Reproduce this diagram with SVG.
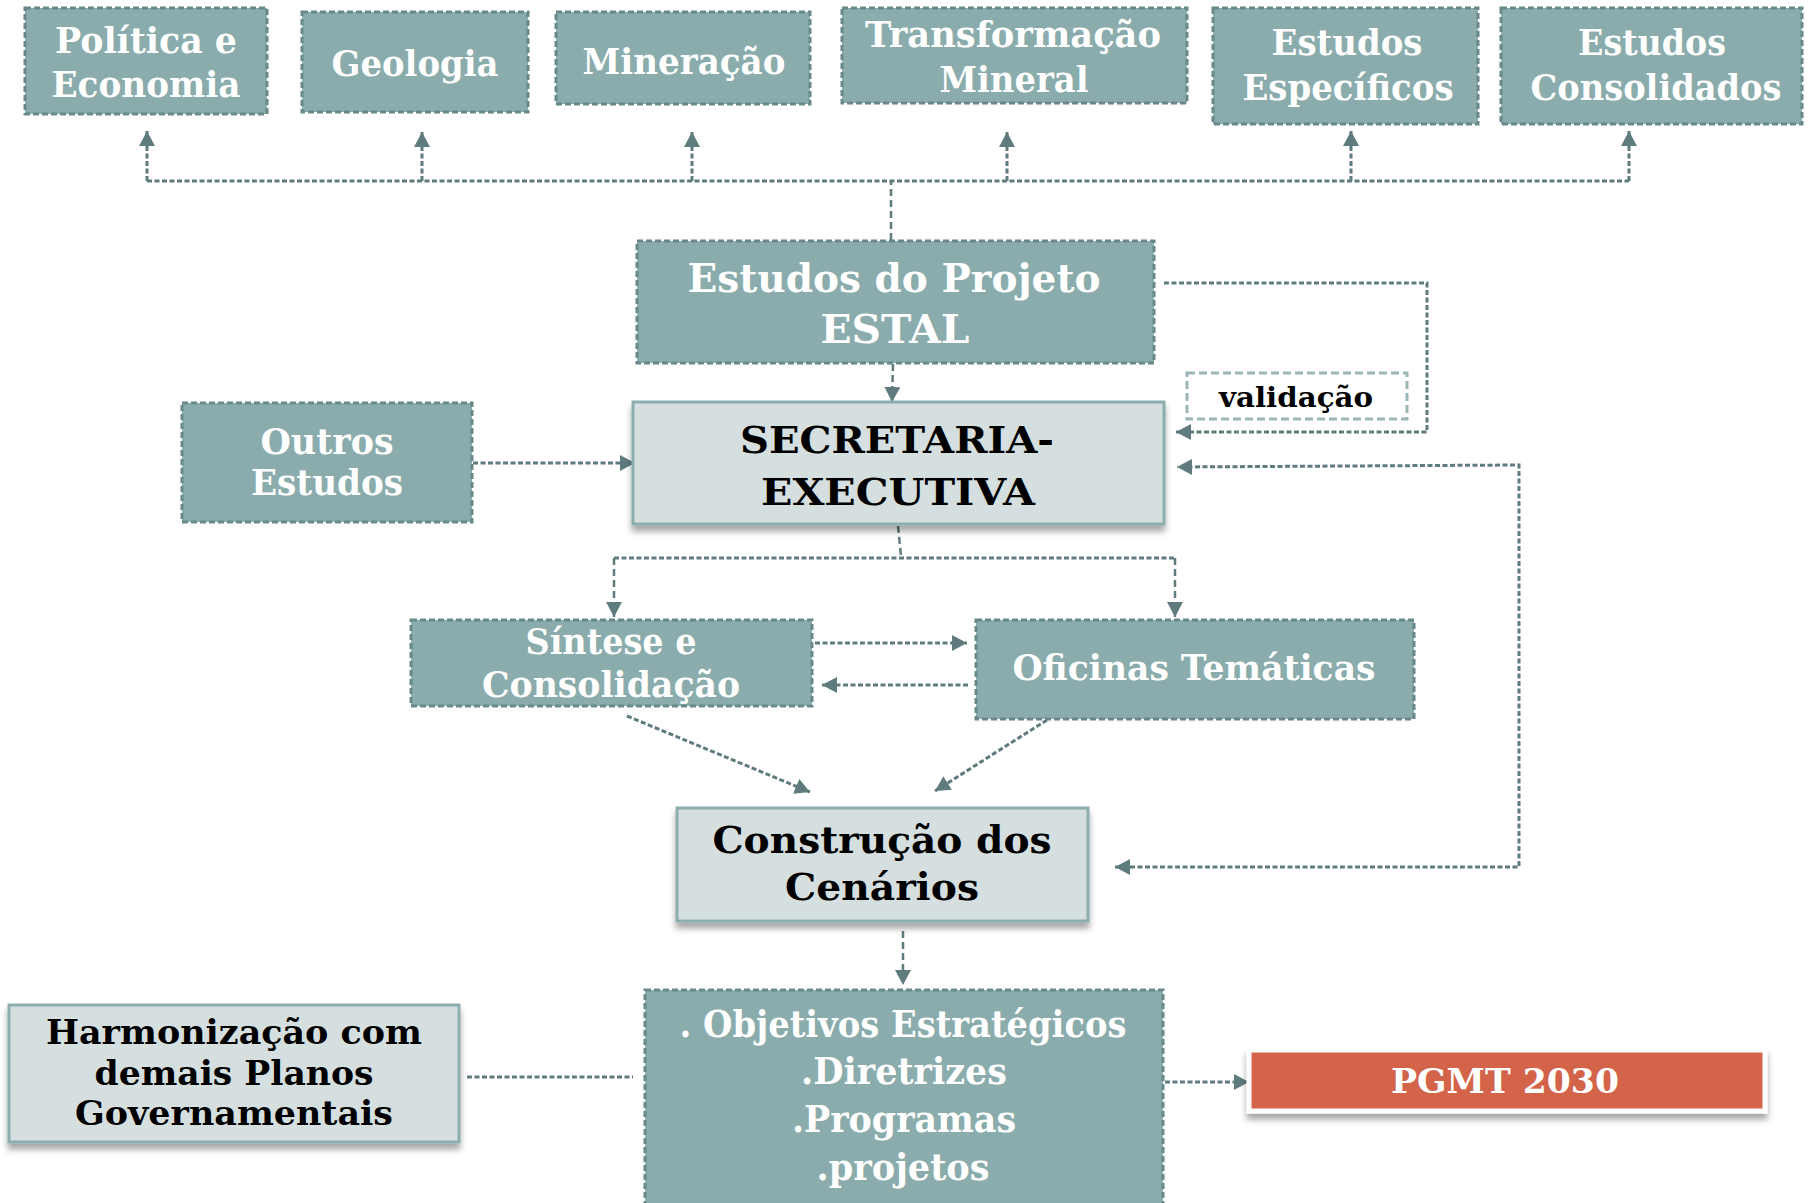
<svg xmlns="http://www.w3.org/2000/svg" width="1820" height="1203" viewBox="0 0 1820 1203">
<defs>
<style>
.t{fill:#8aacac;stroke:#68888a;stroke-width:3;stroke-dasharray:6 3}
.l{fill:#d5dfdf;stroke:#8cadad;stroke-width:3}
.w{font-family:"DejaVu Serif","Liberation Serif",serif;font-weight:bold;fill:#ffffff;text-anchor:middle}
.b{font-family:"DejaVu Serif","Liberation Serif",serif;font-weight:bold;fill:#000000;text-anchor:middle}
.c{fill:none;stroke:#5f7b7d;stroke-width:2.5;stroke-dasharray:7 4}
.cd{fill:none;stroke:#5f7b7d;stroke-width:3;stroke-dasharray:5 2.5}
</style>
<marker id="ah" markerUnits="userSpaceOnUse" markerWidth="16" markerHeight="16" refX="15" refY="8" orient="auto-start-reverse">
<path d="M0,0 L15,8 L0,16 z" fill="#5f7b7d"/>
</marker>
<filter id="sh" x="-10%" y="-20%" width="120%" height="150%">
<feDropShadow dx="0" dy="6" stdDeviation="3" flood-color="#000" flood-opacity="0.35"/>
</filter>
</defs>
<rect width="1820" height="1203" fill="#ffffff"/>

<g id="connectors">
<path class="c" d="M891,240 V181"/>
<path class="cd" d="M147,181 H1629"/>
<path class="cd" d="M147,181 V131" marker-end="url(#ah)"/>
<path class="cd" d="M422,181 V132" marker-end="url(#ah)"/>
<path class="cd" d="M692,181 V132" marker-end="url(#ah)"/>
<path class="cd" d="M1007,181 V132" marker-end="url(#ah)"/>
<path class="cd" d="M1351,181 V131" marker-end="url(#ah)"/>
<path class="cd" d="M1629,181 V131" marker-end="url(#ah)"/>
<path class="c" d="M893,364 L892,402" marker-end="url(#ah)"/>
<path class="cd" d="M473,463 H635" marker-end="url(#ah)"/>
<path class="cd" d="M1164,283 H1427 V432 H1176" marker-end="url(#ah)"/>
<path class="cd" d="M1115,867 H1519 V465 L1177,467" marker-start="url(#ah)" marker-end="url(#ah)"/>
<path class="c" d="M898,526 L901,556"/>
<path class="cd" d="M614,558 H1175"/>
<path class="c" d="M614,558 V617" marker-end="url(#ah)"/>
<path class="c" d="M1175,558 V617" marker-end="url(#ah)"/>
<path class="cd" d="M815,643 H967" marker-end="url(#ah)"/>
<path class="cd" d="M968,685 H822" marker-end="url(#ah)"/>
<path class="cd" d="M627,716 L810,792" marker-end="url(#ah)"/>
<path class="cd" d="M1047,720 L935,791" marker-end="url(#ah)"/>
<path class="c" d="M903,931 V985" marker-end="url(#ah)"/>
<path class="cd" d="M467,1077 H633"/>
<path class="cd" d="M1165,1082 H1249" marker-end="url(#ah)"/>
</g>

<g id="n-politica">
<rect class="t" x="25" y="8" width="242" height="106"/>
<text class="w" x="146" y="53" font-size="35" textLength="182" lengthAdjust="spacingAndGlyphs">Política e</text>
<text class="w" x="146" y="97" font-size="35" textLength="189" lengthAdjust="spacingAndGlyphs">Economia</text>
</g>
<g id="n-geologia">
<rect class="t" x="302" y="12" width="226" height="100"/>
<text class="w" x="415" y="76" font-size="35" textLength="167" lengthAdjust="spacingAndGlyphs">Geologia</text>
</g>
<g id="n-mineracao">
<rect class="t" x="556" y="12" width="254" height="92"/>
<text class="w" x="684" y="74" font-size="35" textLength="203" lengthAdjust="spacingAndGlyphs">Mineração</text>
</g>
<g id="n-transformacao">
<rect class="t" x="842" y="8" width="345" height="95"/>
<text class="w" x="1013" y="47" font-size="35" textLength="296" lengthAdjust="spacingAndGlyphs">Transformação</text>
<text class="w" x="1014" y="92" font-size="35" textLength="149" lengthAdjust="spacingAndGlyphs">Mineral</text>
</g>
<g id="n-especificos">
<rect class="t" x="1213" y="8" width="265" height="116"/>
<text class="w" x="1347" y="55" font-size="35" textLength="151" lengthAdjust="spacingAndGlyphs">Estudos</text>
<text class="w" x="1348" y="100" font-size="35" textLength="211" lengthAdjust="spacingAndGlyphs">Específicos</text>
</g>
<g id="n-consolidados">
<rect class="t" x="1501" y="8" width="301" height="116"/>
<text class="w" x="1652" y="55" font-size="35" textLength="148" lengthAdjust="spacingAndGlyphs">Estudos</text>
<text class="w" x="1656" y="100" font-size="35" textLength="251" lengthAdjust="spacingAndGlyphs">Consolidados</text>
</g>

<g id="n-estal">
<rect class="t" x="637" y="241" width="517" height="122"/>
<text class="w" x="894" y="292" font-size="40" textLength="413" lengthAdjust="spacingAndGlyphs">Estudos do Projeto</text>
<text class="w" x="895" y="343" font-size="40" textLength="149" lengthAdjust="spacingAndGlyphs">ESTAL</text>
</g>

<g id="n-validacao">
<rect x="1187" y="373" width="220" height="46" fill="#ffffff" stroke="#9ab6b6" stroke-width="3" stroke-dasharray="8 4"/>
<text class="b" x="1296" y="407" font-size="27" textLength="154" lengthAdjust="spacingAndGlyphs">validação</text>
</g>

<g id="n-outros">
<rect class="t" x="182" y="403" width="290" height="119"/>
<text class="w" x="327" y="454" font-size="35" textLength="133" lengthAdjust="spacingAndGlyphs">Outros</text>
<text class="w" x="327" y="495" font-size="35" textLength="152" lengthAdjust="spacingAndGlyphs">Estudos</text>
</g>

<g id="n-secretaria">
<rect class="l" x="633" y="402" width="531" height="122" filter="url(#sh)"/>
<text class="b" x="897" y="453" font-size="38" textLength="314" lengthAdjust="spacingAndGlyphs">SECRETARIA-</text>
<text class="b" x="898" y="505" font-size="38" textLength="274" lengthAdjust="spacingAndGlyphs">EXECUTIVA</text>
</g>

<g id="n-sintese">
<rect class="t" x="411" y="620" width="401" height="86"/>
<text class="w" x="611" y="654" font-size="35" textLength="171" lengthAdjust="spacingAndGlyphs">Síntese e</text>
<text class="w" x="611" y="697" font-size="35" textLength="258" lengthAdjust="spacingAndGlyphs">Consolidação</text>
</g>

<g id="n-oficinas">
<rect class="t" x="976" y="620" width="438" height="99"/>
<text class="w" x="1194" y="680" font-size="36" textLength="363" lengthAdjust="spacingAndGlyphs">Oficinas Temáticas</text>
</g>

<g id="n-construcao">
<rect class="l" x="677" y="808" width="411" height="113" filter="url(#sh)"/>
<text class="b" x="882" y="853" font-size="38" textLength="339" lengthAdjust="spacingAndGlyphs">Construção dos</text>
<text class="b" x="882" y="900" font-size="38" textLength="194" lengthAdjust="spacingAndGlyphs">Cenários</text>
</g>

<g id="n-harmonizacao">
<rect class="l" x="9" y="1005" width="450" height="137" filter="url(#sh)"/>
<text class="b" x="234" y="1044" font-size="33" textLength="376" lengthAdjust="spacingAndGlyphs">Harmonização com</text>
<text class="b" x="234" y="1085" font-size="33" textLength="279" lengthAdjust="spacingAndGlyphs">demais Planos</text>
<text class="b" x="234" y="1125" font-size="33" textLength="318" lengthAdjust="spacingAndGlyphs">Governamentais</text>
</g>

<g id="n-objetivos">
<rect class="t" x="645" y="990" width="518" height="225"/>
<text class="w" x="903" y="1037" font-size="37" textLength="447" lengthAdjust="spacingAndGlyphs">. Objetivos Estratégicos</text>
<text class="w" x="904" y="1084" font-size="37" textLength="206" lengthAdjust="spacingAndGlyphs">.Diretrizes</text>
<text class="w" x="904" y="1132" font-size="37" textLength="224" lengthAdjust="spacingAndGlyphs">.Programas</text>
<text class="w" x="903" y="1180" font-size="37" textLength="173" lengthAdjust="spacingAndGlyphs">.projetos</text>
</g>

<g id="n-pgmt">
<rect x="1249" y="1050" width="516" height="61" fill="#d3644a" stroke="#ffffff" stroke-width="5" filter="url(#sh)"/>
<text class="w" x="1505" y="1093" font-size="34" textLength="228" lengthAdjust="spacingAndGlyphs">PGMT 2030</text>
</g>
</svg>
